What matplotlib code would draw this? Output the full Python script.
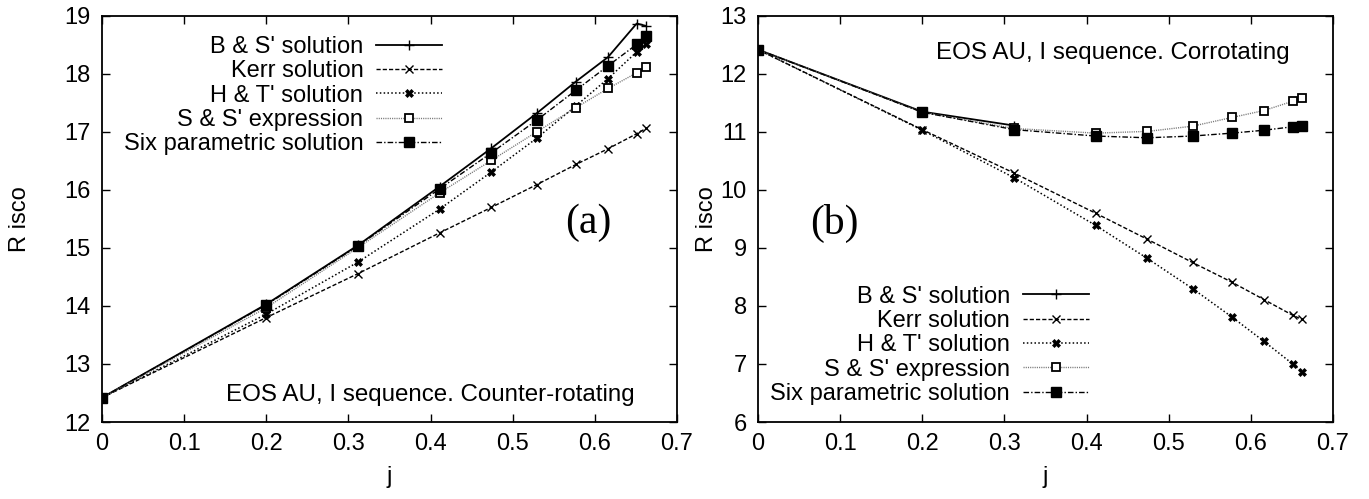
import matplotlib
matplotlib.use("Agg")
import matplotlib.pyplot as plt
import numpy as np

plt.rcParams['font.family'] = ['Liberation Sans', 'DejaVu Sans']

# ---- data ----
j = [0.0, 0.2, 0.312, 0.411, 0.474, 0.529, 0.577, 0.616, 0.651, 0.662]

# (a) counter-rotating
a_bs   = [12.42, 14.03, 15.05, 16.06, 16.72, 17.32, 17.87, 18.29, 18.87, 18.83]
a_kerr = [12.42, 13.80, 14.56, 15.26, 15.70, 16.09, 16.44, 16.71, 16.97, 17.06]
a_ht   = [12.42, 13.86, 14.76, 15.67, 16.31, 16.89, 17.45, 17.92, 18.38, 18.51]
a_ss   = [12.42, 13.97, 15.01, 15.95, 16.51, 17.00, 17.42, 17.75, 18.02, 18.12]
a_six  = [12.42, 14.02, 15.04, 16.02, 16.64, 17.20, 17.72, 18.14, 18.51, 18.65]

# (b) corotating
j_bs_b = [0.0, 0.2, 0.312]
b_bs   = [12.42, 11.35, 11.11]
b_kerr = [12.42, 11.04, 10.29, 9.60, 9.15, 8.75, 8.41, 8.11, 7.84, 7.77]
b_ht   = [12.42, 11.03, 10.21, 9.39, 8.82, 8.30, 7.81, 7.39, 7.00, 6.87]
b_ss   = [12.42, 11.34, 11.06, 10.98, 11.01, 11.10, 11.25, 11.37, 11.53, 11.58]
b_six  = [12.42, 11.34, 11.04, 10.93, 10.90, 10.93, 10.98, 11.03, 11.09, 11.10]

labels = ["B & S' solution", "Kerr solution", "H & T' solution",
          "S & S' expression", "Six parametric solution"]
xticks = [0, 0.1, 0.2, 0.3, 0.4, 0.5, 0.6, 0.7]
xticklabels = ["0", "0.1", "0.2", "0.3", "0.4", "0.5", "0.6", "0.7"]

styles = [
    dict(color='black', ls='-', lw=1.3, marker='+', ms=7, mew=1.0),
    dict(color='black', ls=(0, (3, 1.5)), lw=1.0, marker='x', ms=6, mew=1.0),
    dict(color='black', ls=(0, (1, 1.5)), lw=1.1, marker='X', ms=6, mew=0.5),
    dict(color='#777777', ls=(0, (0.8, 0.8)), lw=1.0, marker='s', ms=6,
         mfc='white', mec='black', mew=1.3),
    dict(color='black', ls=(0, (4, 1.5, 1, 1.5)), lw=1.0, marker='s', ms=7,
         mfc='black', mec='black'),
]

FS = 17

fig = plt.figure(figsize=(13.69, 4.99), dpi=100)
ax1 = fig.add_axes([0.0745, 0.1543, 0.42, 0.8137])
ax2 = fig.add_axes([0.5537, 0.1543, 0.42, 0.8137])

def style_axes(ax, ylim, yticks, ylabelpad):
    ax.set_xlim(0, 0.7)
    ax.set_ylim(*ylim)
    ax.set_xticks(xticks)
    ax.set_xticklabels(xticklabels)
    ax.set_yticks(yticks)
    ax.tick_params(direction='in', length=6, width=1.0, labelsize=FS,
                   top=True, right=True, pad=8)
    for s in ax.spines.values():
        s.set_linewidth(1.3)
    ax.set_xlabel('j', fontsize=FS, labelpad=8)
    ax.set_ylabel('R isco', fontsize=FS, labelpad=ylabelpad)

leg_kw = dict(frameon=False, markerfirst=False, fontsize=FS, handlelength=2.8,
              labelspacing=0.1, handletextpad=0.55, borderaxespad=0.0,
              borderpad=0.0)

# panel (a)
series_a = [a_bs, a_kerr, a_ht, a_ss, a_six]
handles = []
for ys, lab, st in zip(series_a, labels, styles):
    h, = ax1.plot(j, ys, label=lab, **st)
    handles.append(h)
style_axes(ax1, (12, 19), range(12, 20), 24)
ax1.legend(handles=handles, loc='upper right', bbox_to_anchor=(0.592, 0.951),
           **leg_kw)
ax1.text(0.845, 0.49, '(a)', transform=ax1.transAxes, fontsize=30,
         family='Liberation Serif', ha='center', va='center')
ax1.text(0.927, 0.067, 'EOS AU, I sequence. Counter-rotating',
         transform=ax1.transAxes, fontsize=17.4, ha='right', va='center')

# panel (b)
xs_b = [j_bs_b, j, j, j, j]
series_b = [b_bs, b_kerr, b_ht, b_ss, b_six]
handles = []
for xs, ys, lab, st in zip(xs_b, series_b, labels, styles):
    h, = ax2.plot(xs, ys, label=lab, **st)
    handles.append(h)
style_axes(ax2, (6, 13), range(6, 14), 2)
ax2.legend(handles=handles, loc='lower right', bbox_to_anchor=(0.576, 0.042),
           **leg_kw)
ax2.text(0.132, 0.49, '(b)', transform=ax2.transAxes, fontsize=30,
         family='Liberation Serif', ha='center', va='center')
ax2.text(0.925, 0.91, 'EOS AU, I sequence. Corrotating',
         transform=ax2.transAxes, fontsize=17.4, ha='right', va='center')

fig.savefig('out.png', dpi=100)
